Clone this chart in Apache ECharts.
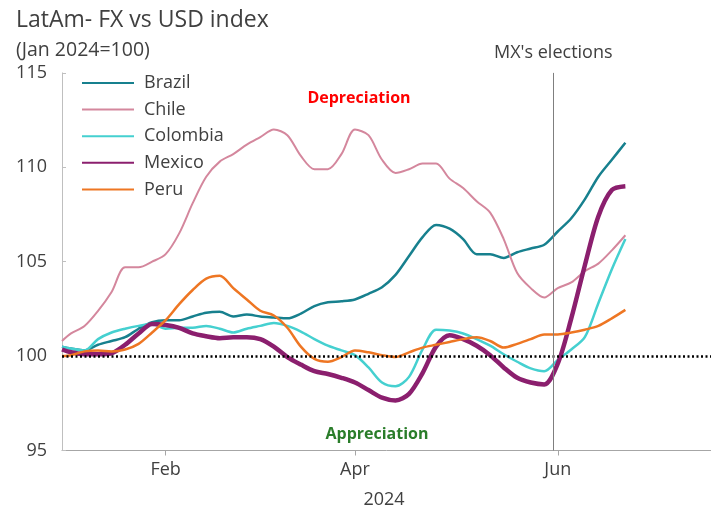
<!DOCTYPE html>
<html><head><meta charset="utf-8">
<script src="https://cdn.jsdelivr.net/npm/echarts@6/dist/echarts.min.js"></script>
<style>html,body{margin:0;padding:0;background:#fff}#c{width:711px;height:512px}</style>
</head><body><div id="c"></div>
<script>
// ---- data ----
const startDate = '2024-01-01';
const endDate = '2024-07-19';
const monthLabels = {'2024-02-01': 'Feb', '2024-04-01': 'Apr', '2024-06-03': 'Jun'};
const electionDate = '2024-05-31';
const yearLabel = '2024';
const sampleDates = ['2024-01-01','2024-01-03','2024-01-08','2024-01-11','2024-01-16','2024-01-19','2024-01-24','2024-01-29',
  '2024-02-01','2024-02-06','2024-02-09','2024-02-14','2024-02-19','2024-02-22','2024-02-27',
  '2024-03-01','2024-03-06','2024-03-11','2024-03-14','2024-03-19','2024-03-22','2024-03-27',
  '2024-04-01','2024-04-04','2024-04-09','2024-04-12','2024-04-17','2024-04-22','2024-04-25','2024-04-30',
  '2024-05-03','2024-05-08','2024-05-13','2024-05-16','2024-05-21','2024-05-24','2024-05-29',
  '2024-06-03','2024-06-06','2024-06-11','2024-06-14','2024-06-19','2024-06-24'];
const brazil = [100.5,100.4,100.3,100.6,100.8,101.0,101.45,101.8,101.9,101.9,
  102.1,102.3,102.35,102.1,102.2,102.1,102.05,102.0,102.25,102.65,
  102.85,102.9,103.0,103.3,103.65,104.3,105.3,106.3,106.95,106.75,
  106.2,105.4,105.4,105.2,105.5,105.7,105.9,106.6,107.3,108.3,
  109.5,110.4,111.3];
const chile = [100.8,101.2,101.6,102.4,103.4,104.7,104.7,105.0,105.4,106.5,
  108.1,109.5,110.3,110.7,111.2,111.6,112.0,111.7,110.6,109.9,
  109.9,110.7,112.0,111.7,110.4,109.7,109.9,110.2,110.2,109.4,
  108.9,108.2,107.6,106.2,104.4,103.6,103.1,103.6,103.9,104.5,
  104.9,105.6,106.4];
const colombia = [100.5,100.4,100.3,100.9,101.25,101.45,101.6,101.7,101.45,101.5,
  101.5,101.6,101.45,101.25,101.45,101.6,101.75,101.6,101.3,100.9,
  100.55,100.3,100.05,99.4,98.6,98.4,98.9,100.35,101.4,101.35,
  101.2,100.9,100.55,100.1,99.7,99.35,99.2,99.8,100.35,101.0,
  102.8,104.6,106.2];
const mexico = [100.35,100.2,100.1,100.1,100.15,100.6,101.2,101.7,101.65,101.5,
  101.2,101.05,100.95,101.0,101.0,100.9,100.5,99.95,99.55,99.2,
  99.05,98.85,98.6,98.2,97.8,97.65,98.0,99.1,100.5,101.1,
  100.9,100.55,100.05,99.4,98.85,98.6,98.5,99.6,102.0,104.8,
  107.4,108.8,109.0];
const peru = [100.0,100.05,100.25,100.3,100.25,100.35,100.65,101.25,101.9,102.75,
  103.5,104.1,104.25,103.6,103.0,102.4,102.15,101.5,100.5,99.85,
  99.7,99.95,100.3,100.2,100.05,99.95,100.2,100.45,100.6,100.75,
  100.9,101.0,100.8,100.45,100.65,100.9,101.15,101.15,101.25,101.4,
  101.6,102.0,102.45];
const seriesNames = ['Brazil', 'Chile', 'Colombia', 'Mexico', 'Peru'];
const seriesValues = [brazil, chile, colombia, mexico, peru];
const baseline = 100;

// ---- styles ----
const FONT = '"Open Sans", sans-serif';
const TXT = '#404040';
const colors = ['#17808e', '#d4879d', '#45d0d0', '#8b1f6e', '#ee7623'];
const widths = [2.5, 2, 2.5, 4.5, 2.5];

function weekdays(a, b) {
  const out = [];
  let d = new Date(a + 'T00:00:00Z');
  const e = new Date(b + 'T00:00:00Z');
  while (d <= e) {
    const w = d.getUTCDay();
    if (w !== 0 && w !== 6) out.push(d.toISOString().slice(0, 10));
    d = new Date(d.getTime() + 86400000);
  }
  return out;
}
const categories = weekdays(startDate, endDate);

const series = seriesNames.map((name, s) => ({
  name: name,
  type: 'line',
  data: sampleDates.map((d, k) => [d, seriesValues[s][k]]),
  symbol: 'none',
  smooth: 0.3,
  lineStyle: {color: colors[s], width: widths[s]},
  itemStyle: {color: colors[s]},
  emphasis: {disabled: true}
}));
series[4].markLine = {
  silent: true,
  symbol: 'none',
  animation: false,
  data: [
    {yAxis: baseline, lineStyle: {type: [2, 2.5], color: '#000', width: 2.5}, label: {show: false}},
    {xAxis: electionDate, lineStyle: {type: 'solid', color: '#7f7f7f', width: 1},
     label: {show: true, position: 'end', formatter: "MX's elections", fontSize: 18, color: TXT, fontFamily: FONT, distance: 11}}
  ]
};

const chart = echarts.init(document.getElementById('c'), null, {renderer: 'canvas'});
chart.setOption({
  animation: false,
  backgroundColor: '#fff',
  textStyle: {fontFamily: FONT},
  title: {
    text: 'LatAm- FX vs USD index', subtext: '(Jan 2024=100)',
    left: 11, top: 4, itemGap: 8,
    textStyle: {fontSize: 23, fontWeight: 'normal', color: TXT, fontFamily: FONT},
    subtextStyle: {fontSize: 19.5, color: TXT, fontFamily: FONT}
  },
  legend: {
    orient: 'vertical', left: 76, top: 68,
    itemWidth: 52, itemHeight: 14, itemGap: 6.6,
    itemStyle: {opacity: 0, color: 'rgba(0,0,0,0)', borderWidth: 0},
    textStyle: {fontSize: 18, color: TXT, lineHeight: 20, padding: [0, 0, 0, 5], fontFamily: FONT},
    data: seriesNames
  },
  grid: {left: 62, right: -2, top: 72.9, bottom: 61.5, containLabel: false},
  xAxis: {
    type: 'category', data: categories, boundaryGap: false,
    axisLine: {lineStyle: {color: '#a6a6a6', width: 1}},
    axisTick: {show: true, interval: (i, v) => v in monthLabels, length: 5, lineStyle: {color: '#a6a6a6'}},
    axisLabel: {interval: (i, v) => v in monthLabels, formatter: v => monthLabels[v] || '', fontSize: 18, color: TXT, margin: 10, fontFamily: FONT},
    splitLine: {show: false}
  },
  yAxis: {
    type: 'value', min: 95, max: 115, interval: 5,
    axisLine: {show: true, lineStyle: {color: '#bfbfbf'}},
    axisTick: {show: true, inside: true, length: 4, lineStyle: {color: '#bfbfbf'}},
    axisLabel: {fontSize: 18, color: TXT, margin: 15, fontFamily: FONT},
    splitLine: {show: false}
  },
  graphic: [
    {type: 'text', x: 359, y: 98, style: {text: 'Depreciation', fill: '#ff0000', font: 'bold 16px ' + FONT, align: 'center', verticalAlign: 'middle'}},
    {type: 'text', x: 377, y: 434, style: {text: 'Appreciation', fill: '#2a7d2a', font: 'bold 16px ' + FONT, align: 'center', verticalAlign: 'middle'}},
    {type: 'text', x: 384, y: 500, style: {text: yearLabel, fill: TXT, font: '18px ' + FONT, align: 'center', verticalAlign: 'middle'}}
  ],
  series: series
});
</script>
</body></html>
